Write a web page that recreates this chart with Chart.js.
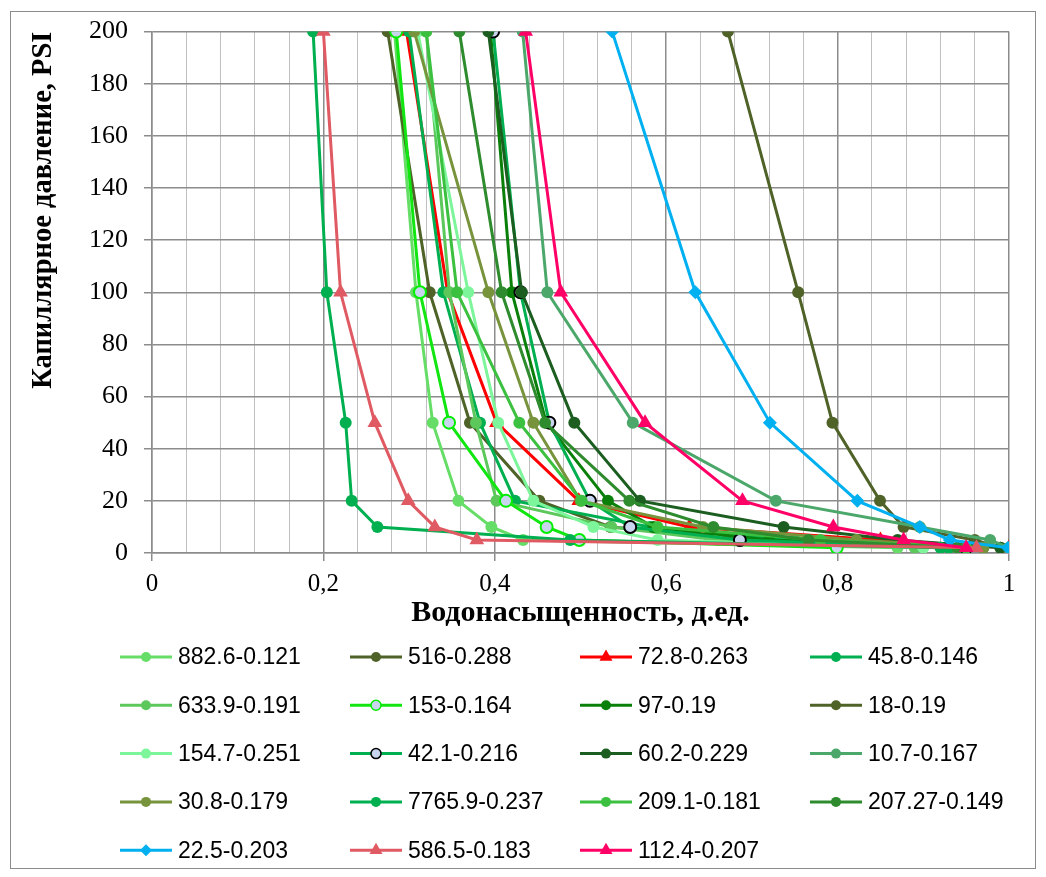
<!DOCTYPE html>
<html><head><meta charset="utf-8">
<script src="https://cdn.jsdelivr.net/npm/chart.js@4.4.1/dist/chart.umd.min.js"></script>
<style>html,body{margin:0;padding:0;background:#fff;}#wrap{width:1046px;height:877px;position:relative;}</style>
</head><body><div id="wrap"><canvas id="c" width="1046" height="877"></canvas></div>
<script>
// Capillary pressure levels, PSI
const pressure = [200, 100, 50, 20, 10, 5, 2];

// Series names (legend order)
const seriesNames = ['882.6-0.121','516-0.288','72.8-0.263','45.8-0.146','633.9-0.191','153-0.164','97-0.19','18-0.19','154.7-0.251','42.1-0.216','60.2-0.229','10.7-0.167','30.8-0.179','7765.9-0.237','209.1-0.181','207.27-0.149','22.5-0.203','586.5-0.183','112.4-0.207'];

// Water saturation values at each pressure level
const sw_882_6  = [0.283, 0.308, 0.3275, 0.3575, 0.396, 0.433, 0.870];
const sw_516    = [0.275, 0.324, 0.371, 0.452, 0.535, 0.720, 0.930];
const sw_72_8   = [0.297, 0.345, 0.402, 0.498, 0.627, 0.850, 1.000];
const sw_45_8   = [0.300, 0.340, 0.3827, 0.4236, 0.581, 0.750, 0.930];
const sw_633_9  = [0.320, 0.347, 0.378, 0.402, 0.536, 0.660, 0.890];
const sw_153    = [0.285, 0.3127, 0.3466, 0.413, 0.4605, 0.4986, 0.799];
const sw_97     = [0.395, 0.420, 0.460, 0.532, 0.585, 0.720, 0.970];
const sw_18     = [0.672, 0.754, 0.794, 0.8495, 0.877, 0.960, 0.990];
const sw_154_7  = [0.310, 0.369, 0.404, 0.445, 0.515, 0.590, 0.900];
const sw_42_1   = [0.398, 0.430, 0.4636, 0.511, 0.558, 0.686, 0.950];
const sw_60_2   = [0.3925, 0.4314, 0.4928, 0.5694, 0.737, 0.870, 0.990];
const sw_10_7   = [0.4325, 0.4613, 0.561, 0.728, 0.896, 0.978, 1.000];
const sw_30_8   = [0.306, 0.3925, 0.445, 0.500, 0.643, 0.822, 0.970];
const sw_7765_9 = [0.188, 0.204, 0.226, 0.233, 0.263, 0.488, 0.920];
const sw_209_1  = [0.320, 0.356, 0.4286, 0.5014, 0.590, 0.780, 0.950];
const sw_207_27 = [0.3586, 0.408, 0.4586, 0.557, 0.655, 0.766, 0.940];
const sw_22_5   = [0.537, 0.634, 0.721, 0.823, 0.896, 0.931, 0.999];
const sw_586_5  = [0.200, 0.220, 0.260, 0.299, 0.330, 0.379, 0.962];
const sw_112_4  = [0.436, 0.477, 0.5753, 0.689, 0.795, 0.877, 0.950];

const seriesValues = [sw_882_6, sw_516, sw_72_8, sw_45_8, sw_633_9, sw_153, sw_97, sw_18, sw_154_7, sw_42_1, sw_60_2, sw_10_7, sw_30_8, sw_7765_9, sw_209_1, sw_207_27, sw_22_5, sw_586_5, sw_112_4];

// Axis tick labels
const xTickLabels = ['0', '0,2', '0,4', '0,6', '0,8', '1'];

// Styles
const lineColors = ['#66DD66','#4F6228','#FF0000','#00B050','#5CC85C','#11E611','#0A800A','#4F6228','#7DF59B','#00B050','#1B5E20','#4BA86A','#77933C','#00B050','#3CC040','#2E8B2E','#00B0F0','#E05A63','#FF0066'];
const markerStyles = ['circle','circle','triangle','circle','circle','circle','circle','circle','circle','circle','circle','circle','circle','circle','circle','circle','rectRot','triangle','triangle'];
const markerFill = lineColors.slice();
markerFill[5] = '#C9D5EE';
markerFill[9] = '#C9D5EE';
const markerBorder = lineColors.slice();
markerBorder[5] = '#00EE00';
markerBorder[9] = '#000000';
const markerBorderW = lineColors.map((c, i) => (i === 5 || i === 9) ? 2 : 0);
const markerR = markerStyles.map(s => s === 'circle' ? 6 : (s === 'triangle' ? 8.5 : 7));

const datasets = seriesNames.map((name, i) => ({
  label: name,
  data: seriesValues[i].map((v, k) => ({x: v, y: pressure[k]})),
  showLine: true,
  tension: 0,
  borderColor: lineColors[i],
  borderWidth: 3,
  pointStyle: markerStyles[i],
  pointRadius: markerR[i],
  pointHoverRadius: markerR[i],
  pointBackgroundColor: markerFill[i],
  pointBorderColor: markerBorder[i],
  pointBorderWidth: markerBorderW[i],
  order: -i
}));

function drawMarker(ctx, style, x, y, r, fill, stroke, bw) {
  ctx.save();
  ctx.beginPath();
  if (style === 'circle') ctx.arc(x, y, r, 0, Math.PI * 2);
  else if (style === 'triangle') { ctx.moveTo(x, y - r); ctx.lineTo(x + r * 0.866, y + r * 0.5); ctx.lineTo(x - r * 0.866, y + r * 0.5); ctx.closePath(); }
  else { ctx.moveTo(x, y - r); ctx.lineTo(x + r, y); ctx.lineTo(x, y + r); ctx.lineTo(x - r, y); ctx.closePath(); }
  ctx.fillStyle = fill; ctx.fill();
  if (bw > 0) { ctx.lineWidth = bw; ctx.strokeStyle = stroke; ctx.stroke(); }
  ctx.restore();
}

const legendPlugin = {
  id: 'gridLegend',
  afterDraw(chart) {
    const ctx = chart.ctx;
    ctx.save();
    // outer frame
    ctx.strokeStyle = '#8C8C8C'; ctx.lineWidth = 1;
    ctx.strokeRect(10.5, 11.5, 1025, 857);
    ctx.font = "23px 'Liberation Sans', Arial, sans-serif";
    ctx.textBaseline = 'middle';
    ctx.fillStyle = '#000';
    chart.data.datasets.forEach((ds, i) => {
      const row = Math.floor(i / 4), col = i % 4;
      const x0 = 120 + col * 230;
      const y = 657 + row * 48.3;
      ctx.strokeStyle = ds.borderColor; ctx.lineWidth = 3;
      ctx.beginPath(); ctx.moveTo(x0, y); ctx.lineTo(x0 + 52, y); ctx.stroke();
      const s = markerStyles[i];
      drawMarker(ctx, s, x0 + 26, y, s === 'circle' ? 5 : (s === 'triangle' ? 7.5 : 6), markerFill[i], markerBorder[i], markerBorderW[i] ? 1.5 : 0);
      ctx.fillStyle = '#000';
      ctx.fillText(ds.label, x0 + 58, y + 1);
    });
    ctx.restore();
  }
};

const serif = "'Liberation Serif', 'Times New Roman', serif";

new Chart(document.getElementById('c'), {
  type: 'scatter',
  data: { datasets },
  options: {
    responsive: false,
    animation: false,
    devicePixelRatio: 1,
    layout: { padding: { left: 10, top: 28, right: 37, bottom: 246 } },
    plugins: { legend: { display: false }, tooltip: { enabled: false } },
    scales: {
      x: {
        type: 'linear', min: 0, max: 1,
        afterFit: (s) => { s.height = 78; },
        ticks: {
          stepSize: 0.04, autoSkip: false, maxRotation: 0, padding: 8,
          color: '#000', font: { family: serif, size: 25 },
          callback: (v, i) => (i % 5 === 0 ? xTickLabels[i / 5] : '')
        },
        grid: {
          color: (c) => (c.index % 5 === 0 ? '#8C8C8C' : '#C0C0C0'),
          lineWidth: (c) => (c.index % 5 === 0 ? 1.5 : 1),
          tickColor: (c) => (c.index % 5 === 0 ? '#8C8C8C' : 'rgba(0,0,0,0)'),
          tickLength: 8
        },
        border: { display: true, color: '#8C8C8C', width: 1.5 },
        title: { display: true, text: 'Водонасыщенность, д.ед.', color: '#000', font: { family: serif, size: 30, weight: 'bold' }, padding: { top: 0, bottom: 0 } }
      },
      y: {
        type: 'linear', min: 0, max: 200,
        afterFit: (s) => { s.width = 142; },
        ticks: { stepSize: 20, padding: 16, color: '#000', font: { family: serif, size: 26 } },
        grid: { color: '#8C8C8C', lineWidth: 1.5, tickColor: '#8C8C8C', tickLength: 8 },
        border: { display: true, color: '#8C8C8C', width: 1.5 },
        title: { display: true, text: 'Капиллярное давление, PSI', align: 'end', color: '#000', font: { family: serif, size: 28.5, weight: 'bold' }, padding: { top: 17, bottom: 0 } }
      }
    }
  },
  plugins: [legendPlugin]
});
</script>
</body></html>
